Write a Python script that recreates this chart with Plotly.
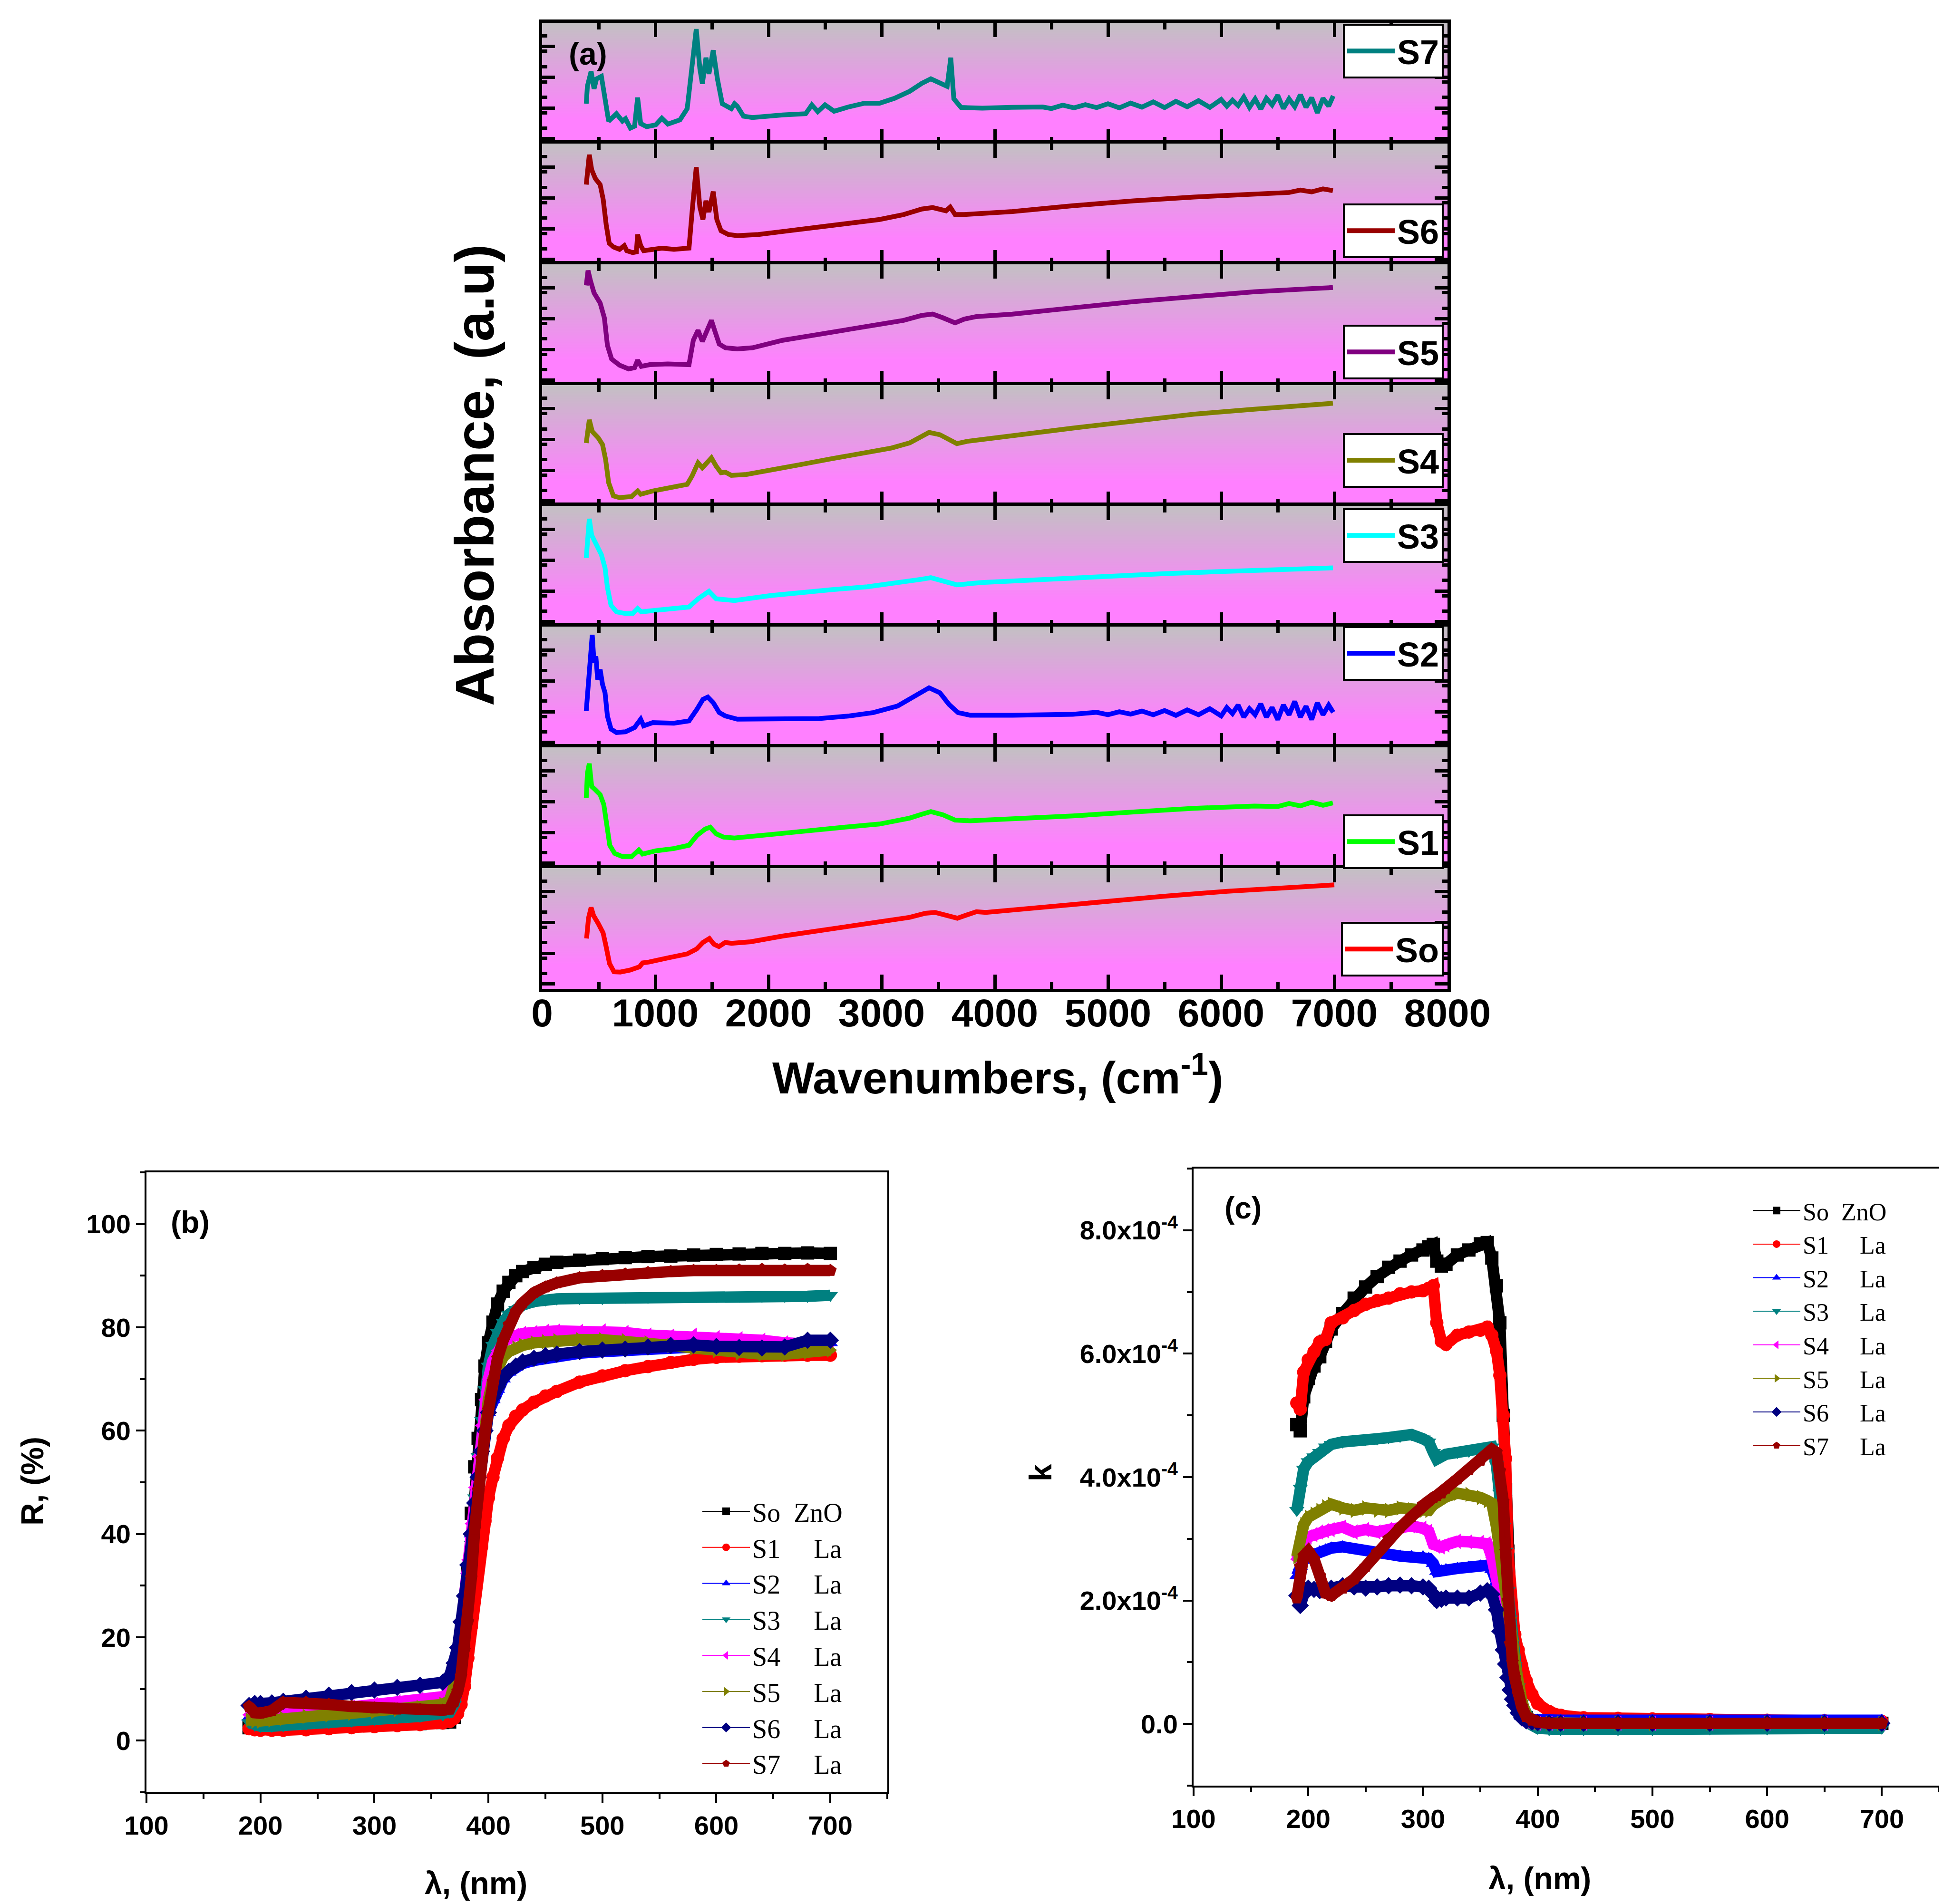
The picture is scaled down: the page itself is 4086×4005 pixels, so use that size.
import numpy as np
import plotly.graph_objects as go

W, H = 4086, 4005

SANS = "Liberation Sans, Arial, sans-serif"
SERIF = "Liberation Serif, Times New Roman, serif"

# ---------------- (a) FTIR absorbance, each panel in its own a.u. (0..1) ----------------
WN_S7 = [390, 400, 433, 459, 481, 524, 556, 588, 657, 710, 737, 780, 817, 844, 871, 924, 1004, 1058, 1111, 1218,
         1282, 1325, 1362, 1394, 1416, 1448, 1474, 1512, 1549, 1592, 1672, 1700, 1725, 1779, 1859, 2126, 2329, 2383,
         2436, 2500, 2580, 2714, 2847, 2981, 3114, 3248, 3355, 3435, 3515, 3579, 3611, 3638, 3702, 3889, 4150, 4423,
         4500, 4600, 4700, 4800, 4900, 5000, 5100, 5200, 5300, 5400, 5500, 5600, 5700, 5800, 5900,
         6000, 6050, 6100, 6150, 6200, 6250, 6300, 6350, 6400, 6450, 6500, 6550, 6600, 6650, 6700, 6750, 6800,
         6850, 6900, 6950, 6990]
AB_S7 = [0.33, 0.474, 0.598, 0.454, 0.536, 0.557, 0.371, 0.186, 0.247, 0.186, 0.206, 0.128, 0.144, 0.381, 0.165,
         0.14, 0.155, 0.21, 0.161, 0.196, 0.289, 0.639, 0.948, 0.619, 0.495, 0.711, 0.577, 0.773, 0.536, 0.33,
         0.289, 0.33, 0.309, 0.227, 0.216, 0.237, 0.247, 0.32, 0.264, 0.32, 0.268, 0.305, 0.334, 0.334, 0.375,
         0.433, 0.499, 0.536, 0.499, 0.474, 0.711, 0.371, 0.299, 0.293, 0.3, 0.303,
         0.29, 0.318, 0.296, 0.322, 0.298, 0.33, 0.296, 0.335, 0.302, 0.345, 0.298, 0.35, 0.305, 0.355, 0.3,
         0.365, 0.31, 0.36, 0.315, 0.385, 0.3, 0.37, 0.285, 0.375, 0.32, 0.4, 0.29, 0.37, 0.305, 0.405, 0.3,
         0.38, 0.255, 0.375, 0.31, 0.395]

WN_S6 = [390, 406, 417, 438, 470, 513, 540, 566, 593, 630, 684, 726, 748, 801, 833, 844, 871, 897, 978, 1058,
         1165, 1298, 1325, 1362, 1394, 1421, 1448, 1474, 1512, 1544, 1581, 1645, 1725, 1912, 2180, 2447, 2714,
         2981, 3194, 3355, 3451, 3569, 3606, 3649, 3729, 4156, 4690, 5225, 5759, 6293, 6600, 6700, 6800, 6900,
         6987]
AB_S6 = [0.66, 0.804, 0.907, 0.784, 0.711, 0.66, 0.536, 0.33, 0.175, 0.144, 0.124, 0.155, 0.113, 0.097, 0.103,
         0.247, 0.155, 0.113, 0.12, 0.134, 0.124, 0.134, 0.433, 0.804, 0.474, 0.371, 0.526, 0.433, 0.602, 0.371,
         0.278, 0.247, 0.237, 0.247, 0.278, 0.309, 0.344, 0.371, 0.412, 0.458, 0.47, 0.443, 0.474, 0.412, 0.412,
         0.437, 0.485, 0.526, 0.557, 0.581, 0.595, 0.615, 0.6, 0.625, 0.61]

WN_S5 = [390, 406, 427, 459, 513, 550, 577, 614, 684, 764, 817, 844, 876, 951, 1111, 1298, 1336, 1378, 1416, 1458,
         1496, 1528, 1565, 1619, 1725, 1859, 2126, 2393, 2660, 2927, 3194, 3355, 3451, 3542, 3649, 3729, 3836,
         4156, 4690, 5225, 5759, 6293, 6827, 6987]
AB_S5 = [0.825, 0.948, 0.866, 0.763, 0.68, 0.557, 0.33, 0.216, 0.165, 0.134, 0.144, 0.206, 0.155, 0.169, 0.175,
         0.169, 0.371, 0.454, 0.361, 0.464, 0.536, 0.443, 0.34, 0.309, 0.299, 0.309, 0.371, 0.412, 0.454, 0.495,
         0.536, 0.577, 0.588, 0.557, 0.515, 0.546, 0.567, 0.588, 0.639, 0.691, 0.732, 0.773, 0.8, 0.808]

WN_S4 = [390, 417, 443, 497, 534, 561, 588, 630, 684, 791, 844, 871, 978, 1111, 1282, 1325, 1378, 1416, 1458, 1496,
         1538, 1581, 1619, 1672, 1806, 2019, 2286, 2553, 2821, 3088, 3248, 3344, 3419, 3515, 3595, 3665, 3755,
         3862, 4156, 4690, 5225, 5759, 6293, 6827, 6987]
AB_S4 = [0.52, 0.712, 0.616, 0.562, 0.507, 0.384, 0.192, 0.082, 0.068, 0.077, 0.123, 0.096, 0.123, 0.151, 0.178,
         0.247, 0.356, 0.315, 0.362, 0.397, 0.329, 0.274, 0.279, 0.252, 0.26, 0.293, 0.342, 0.389, 0.43, 0.479,
         0.521, 0.575, 0.608, 0.589, 0.548, 0.515, 0.534, 0.548, 0.581, 0.644, 0.704, 0.759, 0.8, 0.841, 0.849]

WN_S3 = [390, 406, 417, 438, 481, 524, 556, 577, 609, 657, 737, 801, 844, 876, 1004, 1165, 1298, 1378, 1474, 1538,
         1592, 1699, 2019, 2286, 2553, 2874, 3194, 3355, 3435, 3542, 3665, 3889, 4423, 4957, 5492, 6026, 6560,
         6987]
AB_S3 = [0.568, 0.757, 0.892, 0.757, 0.676, 0.595, 0.486, 0.324, 0.176, 0.122, 0.108, 0.108, 0.149, 0.122, 0.135,
         0.149, 0.162, 0.23, 0.292, 0.23, 0.222, 0.216, 0.257, 0.284, 0.305, 0.33, 0.365, 0.392, 0.405, 0.378,
         0.346, 0.365, 0.392, 0.414, 0.438, 0.457, 0.476, 0.486]

WN_S2 = [390, 406, 427, 443, 459, 475, 491, 513, 534, 556, 577, 609, 657, 737, 817, 871, 897, 978, 1165, 1298,
         1368, 1421, 1464, 1512, 1565, 1619, 1725, 2019, 2447, 2714, 2927, 3141, 3302, 3419, 3515, 3595, 3675,
         3782, 4156, 4690, 4900, 5000, 5100, 5200, 5300, 5400, 5500, 5600, 5700, 5800, 5900,
         6000, 6050, 6100, 6150, 6200, 6250, 6300, 6350, 6400, 6450, 6500, 6550, 6600, 6650, 6700, 6750, 6800,
         6850, 6900, 6950, 6990]
AB_S2 = [0.301, 0.507, 0.699, 0.932, 0.699, 0.753, 0.562, 0.644, 0.521, 0.452, 0.26, 0.151, 0.123, 0.129, 0.164,
         0.233, 0.178, 0.205, 0.2, 0.219, 0.315, 0.397, 0.416, 0.37, 0.288, 0.26, 0.233, 0.233, 0.238, 0.26,
         0.288, 0.342, 0.425, 0.493, 0.452, 0.356, 0.288, 0.266, 0.266, 0.274,
         0.29, 0.27, 0.295, 0.275, 0.3, 0.27, 0.305, 0.265, 0.31, 0.27, 0.32,
         0.26, 0.33, 0.28, 0.35, 0.25, 0.32, 0.27, 0.36, 0.25, 0.33, 0.23, 0.35, 0.27, 0.38, 0.25, 0.34, 0.23,
         0.37, 0.27, 0.35, 0.29]

WN_S1 = [390, 400, 417, 438, 470, 513, 545, 566, 598, 641, 710, 791, 855, 887, 1004, 1165, 1298, 1368, 1442, 1485,
         1538, 1603, 1699, 2019, 2340, 2660, 2981, 3248, 3355, 3435, 3542, 3649, 3782, 4156, 4690, 5225, 5759,
         6293, 6500, 6600, 6700, 6800, 6900, 6987]
AB_S1 = [0.581, 0.784, 0.865, 0.676, 0.649, 0.608, 0.527, 0.365, 0.189, 0.122, 0.095, 0.095, 0.149, 0.116, 0.143,
         0.162, 0.189, 0.27, 0.324, 0.338, 0.284, 0.257, 0.249, 0.278, 0.311, 0.338, 0.365, 0.414, 0.446, 0.468,
         0.441, 0.397, 0.392, 0.405, 0.432, 0.465, 0.495, 0.514, 0.51, 0.535, 0.515, 0.545, 0.52, 0.54]

WN_SO = [393, 410, 433, 455, 494, 539, 567, 596, 635, 691, 775, 860, 888, 944, 1112, 1281, 1365, 1421, 1478, 1517,
         1562, 1618, 1674, 1843, 2124, 2404, 2685, 2966, 3247, 3388, 3472, 3584, 3669, 3753, 3837, 3921, 4371,
         4932, 5494, 6056, 6618, 7000]
AB_SO = [0.417, 0.585, 0.673, 0.606, 0.545, 0.464, 0.343, 0.209, 0.141, 0.139, 0.155, 0.182, 0.215, 0.222, 0.256,
         0.289, 0.33, 0.384, 0.417, 0.37, 0.35, 0.384, 0.377, 0.39, 0.437, 0.478, 0.518, 0.552, 0.592, 0.626,
         0.633, 0.606, 0.585, 0.612, 0.639, 0.633, 0.673, 0.72, 0.767, 0.808, 0.841, 0.861]

# ---------------- (b) reflectance R (%) ----------------
WL_B = [190, 195, 200, 210, 220, 240, 260, 280, 300, 320, 340, 360, 366, 370, 373, 376, 379, 382, 385, 388, 391,
        394, 397, 400, 404, 408, 413, 418, 424, 430, 440, 450, 460, 480, 500, 520, 540, 560, 580, 600, 620, 640,
        660, 680, 700]
R_SO = [2.5, 2.5, 2.6, 2.6, 2.7, 2.8, 2.9, 3.0, 3.1, 3.2, 3.3, 3.5, 3.6, 4.5, 7, 13, 22, 33, 44, 53, 58.5, 66,
        72.5, 77, 81, 84.5, 87, 88.7, 90, 90.8, 91.6, 92.2, 92.6, 93.0, 93.3, 93.5, 93.7, 93.8, 94.0, 94.1, 94.2,
        94.3, 94.3, 94.4, 94.3]
R_S1 = [2.3, 2.1, 2.0, 2.0, 2.0, 2.1, 2.3, 2.5, 2.7, 2.9, 3.1, 3.4, 3.7, 4.3, 5.2, 7, 10.5, 16, 22, 28, 33, 37.5,
        42.5, 47, 51, 54.7, 58.5, 61, 62.8, 64, 65.5, 66.7, 67.6, 69.4, 70.6, 71.6, 72.4, 73.2, 73.8, 74.2, 74.4,
        74.5, 74.6, 74.6, 74.6]
R_S2 = [4.5, 4.3, 4.3, 4.4, 4.5, 4.7, 4.9, 5.1, 5.3, 5.5, 5.8, 6.2, 7, 9, 13, 19, 26, 33, 40, 46.5, 52, 57, 61,
        63.5, 66, 68, 70, 71.3, 72.3, 73, 73.6, 74, 74.4, 75, 75.3, 75.6, 75.8, 76, 76.2, 76.4, 76.5, 76.6, 76.7,
        76.8, 77]
R_S3 = [3.5, 3.0, 2.8, 2.8, 2.9, 3.2, 3.5, 3.8, 4.1, 4.4, 4.7, 5.0, 5.5, 7, 10, 15, 22, 30, 38, 47, 55, 62, 68,
        72.5, 76.5, 79, 81, 82.5, 83.5, 84.3, 85, 85.3, 85.5, 85.6, 85.6, 85.8, 85.8, 86, 86, 86, 86, 86, 86, 86,
        86.2]
R_S4 = [5, 4.5, 4.5, 4.8, 5, 5.5, 6, 6.5, 7, 7.5, 8, 8.5, 9.5, 12, 16, 22, 28, 35, 42, 49, 55, 61, 66, 70, 73.5,
        75.5, 77, 78, 78.5, 78.8, 79, 79.2, 79.3, 79.2, 79.3, 79, 78.5, 78.3, 78.5, 78, 77.8, 77.5, 77, 76.8, 76.5]
R_S5 = [4, 3.8, 3.8, 4, 4.3, 4.7, 5, 5.3, 5.6, 6, 6.4, 7, 7.8, 10, 13, 18, 24, 30, 37, 44, 51, 57, 62, 66, 70,
        72.5, 74.3, 75.3, 76, 76.5, 77, 77.2, 77.4, 77.6, 77.6, 77.4, 77, 76.5, 76, 75.5, 75, 74.8, 74.8, 75.2, 75.6]
R_S6 = [6.8, 7.2, 7.2, 7.3, 7.6, 8.2, 8.8, 9.3, 9.8, 10.3, 10.7, 11.3, 12.5, 15, 18, 23, 28, 34, 40, 46, 51, 56,
        60, 63.5, 66.5, 68.5, 70.3, 71.5, 72.5, 73.3, 74, 74.5, 74.8, 75.3, 75.6, 75.8, 76.2, 76.5, 76.6, 76.3,
        76.1, 76, 76.2, 77.5, 77.5]
R_S7 = [6.6, 5.4, 5.3, 5.8, 7.4, 7.4, 7.0, 6.6, 6.3, 6.1, 6.0, 5.9, 6.1, 7.5, 9.5, 12.5, 17.5, 23, 31.5, 41, 48.5,
        54.5, 59.5, 64, 69.5, 74, 77.5, 80.5, 83, 84.7, 86.7, 87.8, 88.6, 89.6, 90, 90.3, 90.6, 90.8, 91, 91, 91.1,
        91.2, 91.1, 91.2, 91]

# ---------------- (c) extinction coefficient k, in units of 1e-4 ----------------
WL_C = [190, 193, 196, 200, 205, 210, 215, 220, 230, 240, 250, 260, 270, 280, 290, 300, 305, 309, 312, 316, 320,
        330, 340, 350, 356, 360, 364, 367, 370, 372, 374, 376, 378, 380, 383, 386, 390, 395, 400, 410, 420, 440,
        470, 500, 550, 600, 650, 700]
K_SO = [4.85, 4.75, 5.3, 5.6, 5.8, 5.95, 6.2, 6.4, 6.65, 6.9, 7.08, 7.25, 7.4, 7.5, 7.6, 7.68, 7.73, 7.77, 7.5,
        7.42, 7.45, 7.6, 7.68, 7.78, 7.8, 7.55, 7.1, 6.5, 5.0, 3.8, 2.8, 1.9, 1.3, 0.9, 0.5, 0.25, 0.1, 0.05, 0.02,
        0.01, 0.01, 0.01, 0.01, 0.01, 0.01, 0.01, 0.01, 0.01]
K_S1 = [5.2, 5.1, 5.7, 5.9, 6.03, 6.19, 6.23, 6.5, 6.58, 6.7, 6.8, 6.86, 6.9, 6.97, 7.0, 7.02, 7.06, 7.1, 6.5, 6.2,
        6.15, 6.3, 6.35, 6.38, 6.43, 6.3, 6.05, 5.65, 5.0, 4.3, 2.8, 2.1, 1.68, 1.45, 1.2, 0.95, 0.7, 0.48, 0.33,
        0.2, 0.14, 0.1, 0.09, 0.08, 0.07, 0.06, 0.05, 0.04]
K_S2 = [2.4, 2.55, 2.65, 2.71, 2.75, 2.79, 2.82, 2.85, 2.87, 2.83, 2.79, 2.77, 2.75, 2.72, 2.71, 2.71, 2.68, 2.6,
        2.47, 2.48, 2.5, 2.52, 2.54, 2.56, 2.57, 2.5, 2.3, 2.0, 1.6, 1.37, 1.0, 0.75, 0.55, 0.34, 0.2, 0.12, 0.09,
        0.07, 0.06, 0.06, 0.06, 0.06, 0.06, 0.06, 0.06, 0.06, 0.06, 0.06]
K_S3 = [3.46, 3.82, 4.13, 4.25, 4.33, 4.4, 4.49, 4.53, 4.57, 4.6, 4.61, 4.62, 4.64, 4.66, 4.69, 4.62, 4.57, 4.4,
        4.29, 4.33, 4.37, 4.4, 4.42, 4.45, 4.47, 4.49, 4.2, 3.74, 3.2, 2.8, 2.16, 1.7, 1.3, 0.95, 0.6, 0.34, 0.12,
        -0.02, -0.07, -0.09, -0.09, -0.09, -0.09, -0.09, -0.08, -0.08, -0.07, -0.07]
K_S4 = [2.67, 2.95, 3.0, 3.03, 3.07, 3.11, 3.13, 3.15, 3.19, 3.11, 3.15, 3.11, 3.15, 3.2, 3.21, 3.17, 3.12, 2.91,
        2.88, 2.87, 2.9, 2.96, 2.95, 2.94, 2.92, 2.7, 2.4, 2.15, 1.85, 1.6, 1.21, 0.95, 0.66, 0.48, 0.26, 0.12,
        0.04, 0.02, 0.01, 0.01, 0.01, 0.01, 0.01, 0.01, 0.01, 0.01, 0.01, 0.01]
K_S5 = [2.71, 3.1, 3.23, 3.35, 3.4, 3.46, 3.52, 3.56, 3.5, 3.46, 3.5, 3.46, 3.46, 3.5, 3.47, 3.46, 3.46, 3.55, 3.6,
        3.64, 3.68, 3.74, 3.72, 3.67, 3.62, 3.58, 3.2, 2.85, 2.45, 2.24, 2.0, 1.72, 1.35, 1.0, 0.65, 0.38, 0.15,
        0.05, 0.02, 0.01, 0.01, 0.01, 0.01, 0.01, 0.01, 0.01, 0.01, 0.01]
K_S6 = [2.08, 1.92, 2.1, 2.2, 2.18, 2.16, 2.18, 2.2, 2.24, 2.22, 2.2, 2.22, 2.24, 2.25, 2.24, 2.22, 2.2, 2.1, 2.0,
        2.02, 2.04, 2.04, 2.04, 2.12, 2.16, 2.1, 1.85, 1.5, 1.2, 0.97, 0.75, 0.55, 0.4, 0.3, 0.18, 0.1, 0.05, 0.03,
        0.02, 0.01, 0.01, 0.01, 0.01, 0.01, 0.01, 0.01, 0.01, 0.01]
K_S7 = [2.04, 2.55, 2.72, 2.8, 2.67, 2.4, 2.12, 2.08, 2.2, 2.35, 2.55, 2.78, 3.0, 3.18, 3.36, 3.55, 3.62, 3.67,
        3.7, 3.74, 3.82, 3.97, 4.12, 4.27, 4.38, 4.45, 4.4, 4.1, 3.6, 2.8, 2.0, 1.3, 1.0, 0.75, 0.48, 0.28, 0.12,
        0.06, 0.03, 0.01, 0.01, 0.01, 0.01, 0.01, 0.01, 0.01, 0.01, 0.01]
K_TICKS = [0, 2e-4, 4e-4, 6e-4, 8e-4]
K_TICK_TEXT = ["0.0", "2.0x10<sup>-4</sup>", "4.0x10<sup>-4</sup>", "6.0x10<sup>-4</sup>", "8.0x10<sup>-4</sup>"]

# panel (a): top to bottom
PANEL_A = [
    ("S7", WN_S7, AB_S7, "#008080"),
    ("S6", WN_S6, AB_S6, "#990000"),
    ("S5", WN_S5, AB_S5, "#800080"),
    ("S4", WN_S4, AB_S4, "#808000"),
    ("S3", WN_S3, AB_S3, "#00FFFF"),
    ("S2", WN_S2, AB_S2, "#0000FF"),
    ("S1", WN_S1, AB_S1, "#00FF00"),
    ("So", WN_SO, AB_SO, "#FF0000"),
]
# legend box of each panel: (pixel y, anchor)
LEG_A = [(42, "top"), (535, "bottom"), (790, "bottom"), (1018, "bottom"),
         (1061, "top"), (1309, "top"), (1820, "bottom"), (2046, "bottom")]

NB = "\u00a0"
SAMPLES_BC = [
    ("So" + NB * 2 + "ZnO", R_SO, K_SO, "#000000", "square"),
    ("S1" + NB * 5 + "La", R_S1, K_S1, "#FF0000", "circle"),
    ("S2" + NB * 5 + "La", R_S2, K_S2, "#0000FF", "triangle-up"),
    ("S3" + NB * 5 + "La", R_S3, K_S3, "#008080", "triangle-down"),
    ("S4" + NB * 5 + "La", R_S4, K_S4, "#FF00FF", "triangle-left"),
    ("S5" + NB * 5 + "La", R_S5, K_S5, "#808000", "triangle-right"),
    ("S6" + NB * 5 + "La", R_S6, K_S6, "#000080", "diamond"),
    ("S7" + NB * 5 + "La", R_S7, K_S7, "#990000", "pentagon"),
]


def px_x(p):
    return p / W


def px_y(p):
    return 1 - p / H


def names(n):
    if n == 1:
        return "x", "y", "xaxis", "yaxis", "legend"
    return f"x{n}", f"y{n}", f"xaxis{n}", f"yaxis{n}", f"legend{n}"


fig = go.Figure()
layout = {}

# ---------------- panel (a) ----------------
A_LEFT, A_RIGHT, A_TOP, A_BOTTOM = 1132, 3036, 40, 2072
row_h = (A_BOTTOM - A_TOP) / len(PANEL_A)

for i, (name, wn, ab, color) in enumerate(PANEL_A):
    n = i + 1
    xa, ya, xkey, ykey, lkey = names(n)
    top = A_TOP + i * row_h
    bottom = top + row_h

    # grey -> magenta background gradient
    fig.add_trace(go.Heatmap(
        x=[0, 8000], y=[0, 0.2, 1], z=[[0, 0], [0, 0], [1, 1]],
        colorscale=[[0, "#FF80FF"], [1, "#C3C0C3"]], zsmooth="best",
        showscale=False, hoverinfo="skip", xaxis=xa, yaxis=ya))
    fig.add_trace(go.Scatter(
        x=wn, y=ab, mode="lines", name=name, line=dict(color=color, width=10),
        xaxis=xa, yaxis=ya, legend=lkey))

    is_last = n == len(PANEL_A)
    layout[xkey] = dict(
        domain=[px_x(A_LEFT), px_x(A_RIGHT)], anchor=ya, range=[0, 8000],
        showline=True, linecolor="black", linewidth=7, mirror="ticks",
        ticks="inside", dtick=1000, tick0=0, ticklen=30, tickwidth=7, tickcolor="black",
        minor=dict(ticks="inside", dtick=500, ticklen=14, tickwidth=7, tickcolor="black"),
        showgrid=False, zeroline=False, showticklabels=is_last,
        tickfont=dict(family=SANS, size=82, color="black", weight="bold"),
        ticklabelstandoff=-26)
    layout[ykey] = dict(
        domain=[px_y(bottom), px_y(top)], anchor=xa, range=[0, 1],
        showline=True, linecolor="black", linewidth=7, mirror="ticks",
        ticks="inside", tick0=0.04, dtick=0.255, ticklen=27, tickwidth=7, tickcolor="black",
        minor=dict(ticks="inside", dtick=0.1275, ticklen=11, tickwidth=7, tickcolor="black"),
        showgrid=False, zeroline=False, showticklabels=False)

    ly, anchor = LEG_A[i]
    layout[lkey] = dict(
        x=px_x(3028), y=px_y(ly), xanchor="right", yanchor=anchor,
        bgcolor="white", bordercolor="black", borderwidth=4,
        font=dict(family=SANS, size=72, color="black", weight="bold"),
        itemwidth=100)

# ---------------- panels (b) and (c) ----------------
B_BOX = (300, 1858, 2458, 3762)
C_BOX = (2502, 4070, 2450, 3748)


def plain_axes(box, n, x_range, y_range):
    xa, ya, xkey, ykey, lkey = names(n)
    left, right, top, bottom = box
    common = dict(showline=True, linecolor="black", linewidth=4, mirror=True,
                  ticks="outside", ticklen=18, tickwidth=4, tickcolor="black",
                  showgrid=False, zeroline=False,
                  tickfont=dict(family=SANS, size=56, color="black", weight="bold"))
    layout[xkey] = dict(common, domain=[px_x(left), px_x(right)], anchor=ya, range=x_range,
                        dtick=100, tick0=0,
                        minor=dict(ticks="outside", dtick=50, ticklen=10, tickwidth=4, tickcolor="black"))
    layout[ykey] = dict(common, domain=[px_y(bottom), px_y(top)], anchor=xa, range=y_range)
    return xa, ya, ykey, lkey


xb, yb, ykey_b, leg_b = plain_axes(B_BOX, 9, [100, 750], [-10, 110])
layout[ykey_b].update(dtick=20, tick0=0,
                      minor=dict(ticks="outside", dtick=10, ticklen=10, tickwidth=4, tickcolor="black"))
xc, yc, ykey_c, leg_c = plain_axes(C_BOX, 10, [100, 750], [-1e-4, 9e-4])
layout[ykey_c].update(tickvals=K_TICKS, ticktext=K_TICK_TEXT,
                      minor=dict(ticks="outside", dtick=1e-4, tick0=0, ticklen=10, tickwidth=4,
                                 tickcolor="black"))

for name, r_vals, k_vals, color, symbol in SAMPLES_BC:
    k_vals = np.array(k_vals) * 1e-4
    for xa, ya, lkey, xs, ys in [(xb, yb, leg_b, WL_B, r_vals), (xc, yc, leg_c, WL_C, k_vals)]:
        # overlapping markers of the original form a thick band
        fig.add_trace(go.Scatter(x=xs, y=ys, mode="lines", line=dict(color=color, width=24),
                                 showlegend=False, hoverinfo="skip", xaxis=xa, yaxis=ya))
        fig.add_trace(go.Scatter(x=xs, y=ys, mode="lines+markers", name=name,
                                 line=dict(color=color, width=2),
                                 marker=dict(symbol=symbol, size=28, color=color),
                                 xaxis=xa, yaxis=ya, legend=lkey))

legend_bc = dict(bgcolor="rgba(0,0,0,0)", borderwidth=0, xanchor="left", yanchor="top",
                 tracegroupgap=0, itemwidth=100)
layout[leg_b] = dict(legend_bc, x=px_x(1464), y=px_y(3128),
                     font=dict(family=SERIF, size=56, color="black"))
layout[leg_c] = dict(legend_bc, x=px_x(3673), y=px_y(2498),
                     font=dict(family=SERIF, size=52, color="black"))


# ---------------- text ----------------
def note(text, x, y, size, angle=0):
    return dict(text=text, x=px_x(x), y=px_y(y), xref="paper", yref="paper",
                xanchor="center", yanchor="middle", showarrow=False, textangle=angle,
                font=dict(family=SANS, size=size, color="black", weight="bold"))


annotations = [
    note("Wavenumbers, (cm<sup>-1</sup>)", 2090, 2252, 94),
    note("Absorbance, (a.u)", 990, 992, 115, -90),
    note("(a)", 1228, 105, 66),
    note("(b)", 392, 2563, 64),
    note("(c)", 2606, 2533, 64),
    note("R, (%)", 60, 3108, 66, -90),
    note("\u03bb, (nm)", 993, 3953, 66),
    note("k", 2180, 3090, 66, -90),
    note("\u03bb, (nm)", 3230, 3943, 66),
]

fig.update_layout(
    width=W, height=H, autosize=False,
    margin=dict(l=0, r=0, t=0, b=0, autoexpand=False),
    paper_bgcolor="white", plot_bgcolor="white",
    annotations=annotations,
    **layout)

fig.write_html("out.html")
